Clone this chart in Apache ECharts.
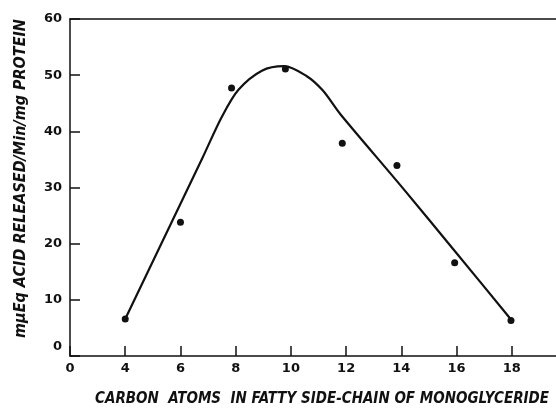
<!DOCTYPE html>
<html>
<head>
<meta charset="utf-8">
<script src="https://cdn.jsdelivr.net/npm/echarts@6/dist/echarts.min.js"></script>
<style>html,body{margin:0;padding:0;background:#fff}#c{width:556px;height:412px}</style>
</head>
<body>
<div id="c"></div>
<script>
// measured points (carbon atoms, activity)
const pointX = [4, 6, 7.85, 9.8, 11.86, 13.84, 15.93, 17.97];
const pointY = [6.6, 23.8, 47.7, 51.1, 37.9, 33.9, 16.6, 6.3];
// hand-drawn fitted curve
const curveX = [4, 6.8, 7.5, 8.1, 8.95, 9.75, 10.55, 11.15, 11.8, 14, 16, 17.97];
const curveY = [6.6, 35.3, 42.6, 47.4, 50.8, 51.6, 49.9, 47.3, 43.0, 30.2, 18.3, 6.5];
const xTicks = ['0', '4', '6', '8', '10', '12', '14', '16', '18'];
const yTicks = [0, 10, 20, 30, 40, 50, 60];
const xTitle = 'CARBON  ATOMS  IN FATTY SIDE-CHAIN OF MONOGLYCERIDE';
const yTitle = 'mμEq ACID RELEASED/Min/mg PROTEIN';

const ink = '#111';
const labelFont = {color: ink, fontFamily: 'DejaVu Sans', fontWeight: 'bold', fontSize: 13};
const chart = echarts.init(document.getElementById('c'), null, {renderer: 'canvas'});
chart.setOption({
  backgroundColor: '#fff',
  animation: false,
  grid: {left: 70, right: 0, top: 19, bottom: 56},
  xAxis: [{
    type: 'value', min: 2, max: 19.6, interval: 2,
    axisLine: {show: true, lineStyle: {color: ink, width: 1.5}},
    axisTick: {show: true, inside: true, length: 10, lineStyle: {color: ink, width: 1.5}},
    splitLine: {show: false},
    axisLabel: Object.assign({margin: 6, showMaxLabel: false,
      formatter: v => v === 2 ? xTicks[0] : (xTicks.indexOf(String(v)) >= 0 ? String(v) : '')}, labelFont),
    name: xTitle, nameLocation: 'middle', nameGap: 36,
    nameTextStyle: {color: ink, fontFamily: 'DejaVu Sans Condensed', fontWeight: 'bold', fontStyle: 'italic', fontSize: 15, padding: [0, 0, 0, 18]}
  }, {
    type: 'value', min: 2, max: 19.6, position: 'top',
    axisLine: {show: true, onZero: false, lineStyle: {color: ink, width: 1.5}},
    axisTick: {show: false}, axisLabel: {show: false}, splitLine: {show: false}
  }],
  yAxis: {
    type: 'value', min: yTicks[0], max: yTicks[yTicks.length - 1], interval: 10,
    axisLine: {show: true, lineStyle: {color: ink, width: 1.5}},
    axisTick: {show: true, inside: true, length: 10, lineStyle: {color: ink, width: 1.5}},
    splitLine: {show: false},
    axisLabel: Object.assign({margin: 8,
      formatter: v => v === 0 ? '{z|0}' : String(v),
      rich: {z: {color: ink, fontFamily: 'DejaVu Sans', fontWeight: 'bold', fontSize: 13, padding: [0, 0, 18, 0]}}}, labelFont),
    name: yTitle, nameLocation: 'middle', nameGap: 41, nameRotate: 90,
    nameTextStyle: {color: ink, fontFamily: 'DejaVu Sans Condensed', fontWeight: 'bold', fontStyle: 'italic', fontSize: 16, padding: [0, 0, 0, 18]}
  },
  series: [{
    type: 'line', xAxisIndex: 0,
    data: curveX.map((x, i) => [x, curveY[i]]),
    smooth: 0.3, showSymbol: false, symbol: 'none',
    lineStyle: {color: ink, width: 2.2}
  }, {
    type: 'scatter', xAxisIndex: 0,
    data: pointX.map((x, i) => [x, pointY[i]]),
    symbol: 'circle', symbolSize: 7,
    itemStyle: {color: ink, opacity: 1}
  }]
});
</script>
</body>
</html>
